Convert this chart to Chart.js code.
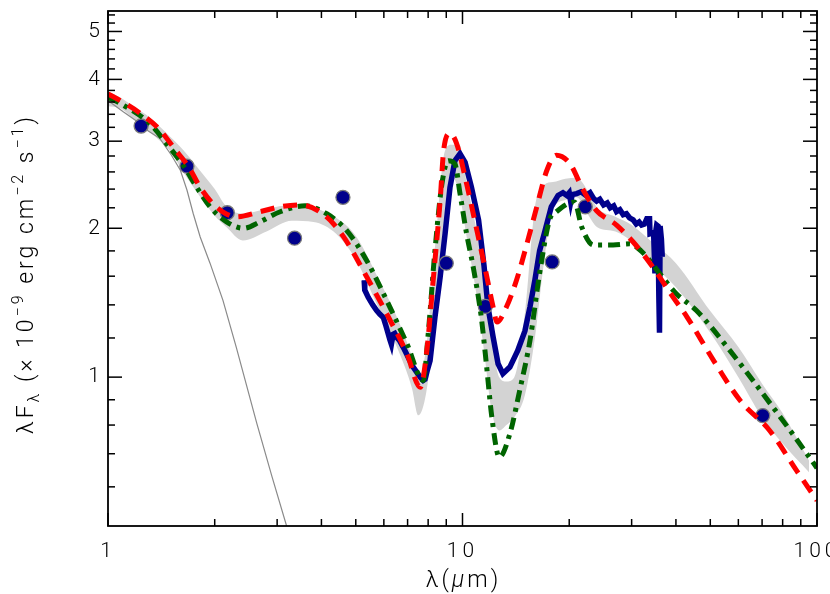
<!DOCTYPE html>
<html><head><meta charset="utf-8">
<script src="https://cdn.jsdelivr.net/npm/chart.js@4.4.0/dist/chart.umd.min.js"></script>
<style>html,body{margin:0;padding:0;background:#fff;}#wrap{width:830px;height:594px;}</style>
</head><body><div id="wrap"><canvas id="c" width="830" height="594"></canvas></div>
<script>
// ---------- data ----------
const bandX = [1.0,1.08,1.2,1.31,1.5,1.63,1.8,2.0,2.16,2.4,2.8,3.3,3.8,4.4,5.0,5.8,6.6,7.2,7.5,7.9,8.4,8.9,9.3,9.8,10.3,10.9,11.5,12.1,12.7,13.3,14.0,15.0,16.0,17.0,18.0,19.5,21.0,22.5,24,27,30,35,40,50,60,70,80,95];
const bandUpper = [3.78,3.68,3.50,3.35,3.06,2.88,2.64,2.40,2.21,2.14,2.19,2.23,2.20,2.10,1.93,1.58,1.30,1.10,0.99,1.15,1.90,2.85,2.95,2.95,2.45,2.02,1.60,1.20,1.0,0.98,1.0,1.35,2.2,2.45,2.48,2.52,2.53,2.39,2.20,2.11,2.03,1.85,1.70,1.36,1.15,0.97,0.845,0.678];
const bandLower = [3.53,3.50,3.29,3.13,2.86,2.60,2.34,2.12,2.01,1.89,1.97,2.07,2.06,1.95,1.73,1.38,1.13,0.95,0.837,0.93,1.35,2.10,2.55,2.35,1.90,1.50,1.13,0.85,0.78,0.80,0.83,0.92,1.2,1.72,2.18,2.28,2.31,2.14,2.01,1.97,1.88,1.67,1.52,1.23,1.0,0.83,0.734,0.642];

const starX = [1.0,1.013,1.104,1.2,1.286,1.40,1.51,1.60,1.67,1.74,1.82,1.94,2.11,2.3,2.63,2.9,3.19,3.3];
const starY = [3.64,3.60,3.44,3.30,3.16,3.04,2.81,2.62,2.39,2.14,1.92,1.70,1.43,1.15,0.805,0.63,0.5,0.46];

const specX = [5.28,5.30,5.42,5.58,5.72,5.85,5.98,6.08,6.18,6.24,6.30,6.37,6.44,6.54,6.64,6.80,6.95,7.10,7.26,7.45,7.60,7.75,7.84,7.95,8.10,8.36,8.65,8.93,9.22,9.52,9.84,10.17,10.6,11.1,11.5,11.8,12.2,12.6,13.0,13.6,14.3,15.0,15.5,16.0,16.5,17.1,17.8,18.6,19.2,19.7,20.0,20.2,20.4,21.0,21.6,22.3,22.9,23.4,23.9,24.4,25.0,25.6,26.1,26.7,27.2,27.8,28.4,29.0,29.6,30.3,30.9,31.5,32.0,32.6,33.1,33.7,33.8,34.6,34.9,35.0,35.3,35.6,35.8,35.95,36.1,36.4,36.6];
const specY = [1.57,1.50,1.45,1.40,1.365,1.34,1.32,1.27,1.22,1.19,1.165,1.22,1.225,1.20,1.186,1.15,1.115,1.08,1.048,1.02,1.0,0.985,0.99,1.03,1.08,1.32,1.594,1.95,2.42,2.74,2.83,2.72,2.42,2.08,1.68,1.386,1.205,1.064,1.016,1.048,1.13,1.24,1.386,1.57,1.80,1.98,2.21,2.33,2.36,2.33,2.36,2.26,2.34,2.35,2.37,2.33,2.36,2.30,2.27,2.29,2.23,2.25,2.20,2.22,2.16,2.18,2.13,2.14,2.10,2.08,2.04,2.06,2.03,2.04,2.09,2.09,1.95,1.96,1.62,1.95,2.03,2.02,1.45,1.23,2.02,1.90,1.75];

const photX = [1.24,1.67,2.17,3.36,4.6,9.0,11.6,17.9,22.2,70.3];
const photY = [3.22,2.67,2.15,1.91,2.31,1.70,1.39,1.71,2.21,0.836];

const modelAX = [1.0,1.1,1.23,1.39,1.55,1.69,1.82,2.02,2.3,2.68,3.06,3.5,4.1,4.6,5.37,6.18,6.97,7.6,7.93,8.25,8.65,8.85,9.22,9.62,10.27,10.93,11.56,12.2,12.5,13.3,14.2,15.1,16.2,17.3,18.4,20.1,21.9,23.9,27.2,30.3,33.8,39.3,43.0,51.1,60.7,73.5,87.6,100];
const modelAY = [3.74,3.60,3.42,3.18,2.88,2.66,2.42,2.21,2.11,2.16,2.21,2.23,2.12,1.93,1.594,1.323,1.115,0.954,1.13,1.546,2.28,2.88,3.11,2.97,2.46,2.01,1.67,1.386,1.292,1.386,1.57,1.83,2.21,2.62,2.81,2.70,2.39,2.17,2.03,1.876,1.70,1.45,1.323,1.08,0.897,0.78,0.647,0.563];

const modelBX = [1.0,1.08,1.31,1.46,1.63,1.78,1.94,2.16,2.41,2.68,3.06,3.6,4.14,4.71,5.37,6.11,6.97,7.75,8.0,8.36,8.75,9.12,9.52,9.84,10.27,10.72,11.3,11.7,12.1,12.7,13.6,14.5,15.5,16.5,17.6,18.4,20.7,21.7,23.4,26.6,29.6,32.4,36.0,40.1,45.7,56.9,70.4,84,100];
const modelBY = [3.68,3.58,3.26,2.97,2.68,2.42,2.21,2.06,2.00,2.06,2.16,2.22,2.14,1.98,1.72,1.43,1.168,0.985,1.22,1.80,2.46,2.74,2.70,2.35,1.95,1.67,1.32,1.048,0.83,0.689,0.768,0.94,1.186,1.62,2.08,2.16,2.26,2.01,1.85,1.85,1.86,1.78,1.62,1.475,1.364,1.13,0.925,0.78,0.655];

const xLabelTicks = [1,10,100];
const xMinorTicks = [2,3,4,5,6,7,8,9,20,30,40,50,60,70,80,90];
const yLabelTicks = [1,2,3,4,5];
const yMinorTicks = [0.6,0.7,0.8,0.9,1.2,1.4,1.6,1.8,2.2,2.4,2.6,2.8,3.2,3.4,3.6,3.8,4.2,4.4,4.6,4.8,5.2,5.4];

const yTitleRuns = [['λF',0],['λ',1],[' (× 10',0],['−9',2],[' erg cm',0],['−2',2],[' s',0],['−1',2],[')',0]];
const xTitleRuns = [['λ(',0],['μ',3],['m)',0]];

// ---------- build ----------
const pts = (xs, ys) => xs.map((x,i)=>({x:x, y:ys[i]}));
const FONT = 'Roboto';
const WEIGHT = 300;

const spacing = {
  id:'spacing',
  beforeDraw(chart){ chart.ctx.letterSpacing = '4px'; }
};

function drawRuns(ctx, runs, cx, baseY, bigPx, smallPx, spacingPx){
  const fontFor = t => (t===3?'italic ':'') + WEIGHT + ' ' + ((t===1||t===2)?smallPx:bigPx) + 'px "' + FONT + '"';
  ctx.letterSpacing = spacingPx + 'px';
  let tw = 0;
  runs.forEach(r=>{ctx.font = fontFor(r[1]); tw += ctx.measureText(r[0]).width;});
  let tx = cx - tw/2;
  runs.forEach(r=>{
    ctx.font = fontFor(r[1]);
    const dy = r[1]===1 ? 6 : (r[1]===2 ? -10 : 0);
    ctx.fillText(r[0], tx, baseY + dy);
    tx += ctx.measureText(r[0]).width;
  });
}

const frame = {
  id:'frame',
  afterDraw(chart){
    const {ctx, chartArea:a, scales:{x, y}} = chart;
    ctx.save();
    ctx.strokeStyle = '#000';
    ctx.lineWidth = 1.5;
    const ln = (x1,y1,x2,y2)=>{ctx.beginPath();ctx.moveTo(x1,y1);ctx.lineTo(x2,y2);ctx.stroke();};
    xLabelTicks.forEach(v=>{const p=x.getPixelForValue(v); ln(p,a.bottom,p,a.bottom-13); ln(p,a.top,p,a.top+13);});
    xMinorTicks.forEach(v=>{const p=x.getPixelForValue(v); ln(p,a.bottom,p,a.bottom-7); ln(p,a.top,p,a.top+7);});
    yLabelTicks.forEach(v=>{const p=y.getPixelForValue(v); ln(a.left,p,a.left+14,p); ln(a.right,p,a.right-14,p);});
    yMinorTicks.forEach(v=>{const p=y.getPixelForValue(v); ln(a.left,p,a.left+7,p); ln(a.right,p,a.right-7,p);});
    ctx.lineWidth = 1.8;
    ctx.strokeRect(a.left, a.top, a.right-a.left, a.bottom-a.top);
    ctx.fillStyle = '#000';
    ctx.textBaseline = 'alphabetic';
    drawRuns(ctx, xTitleRuns, (a.left+a.right)/2 + 1, 587, 23, 16, 3);
    ctx.translate(33, 274);
    ctx.rotate(-Math.PI/2);
    drawRuns(ctx, yTitleRuns, 0, 0, 23, 16, 3);
    ctx.restore();
  }
};

new Chart(document.getElementById('c'), {
  type:'scatter',
  data:{ datasets:[
    {label:'band upper', data:pts(bandX,bandUpper), showLine:true, borderWidth:0, borderColor:'rgba(0,0,0,0)', pointRadius:0, cubicInterpolationMode:'monotone', fill:false, order:10},
    {label:'band lower', data:pts(bandX,bandLower), showLine:true, borderWidth:0, borderColor:'rgba(0,0,0,0)', pointRadius:0, cubicInterpolationMode:'monotone', fill:{target:'-1'}, backgroundColor:'#d3d3d3', order:9},
    {label:'photosphere', data:pts(starX,starY), showLine:true, borderColor:'#8a8a8a', borderWidth:1.2, pointRadius:0, tension:0, order:8},
    {label:'IRS', data:pts(specX,specY), showLine:true, borderColor:'#00008c', borderWidth:5.5, pointRadius:0, tension:0, order:7},
    {label:'photometry', data:pts(photX,photY), showLine:false, pointRadius:7, pointBackgroundColor:'#00008c', pointBorderColor:'#7a7a7a', pointBorderWidth:1.3, order:6},
    {label:'model B', data:pts(modelBX,modelBY), showLine:true, borderColor:'#006400', borderWidth:5, borderDash:[12,6,4,6], pointRadius:0, cubicInterpolationMode:'monotone', order:5},
    {label:'model A', data:pts(modelAX,modelAY), showLine:true, borderColor:'#ff0000', borderWidth:5, borderDash:[14,9], pointRadius:0, cubicInterpolationMode:'monotone', order:4}
  ]},
  options:{
    responsive:false, animation:false, devicePixelRatio:1,
    layout:{padding:{top:11,right:13,left:0,bottom:0}},
    plugins:{legend:{display:false}, tooltip:{enabled:false}},
    scales:{
      x:{type:'logarithmic', min:1, max:100,
        grid:{display:false, drawTicks:false}, border:{display:false},
        afterBuildTicks:s=>{s.ticks = xLabelTicks.map(v=>({value:v}));},
        afterFit:s=>{s.height=68; s.paddingLeft=0; s.paddingRight=0;},
        ticks:{autoSkip:false, maxRotation:0, padding:13, color:'#000', font:{family:FONT,size:21,weight:WEIGHT}, callback:v=>String(v)}},
      y:{type:'logarithmic', min:0.5, max:5.5,
        grid:{display:false, drawTicks:false}, border:{display:false},
        afterBuildTicks:s=>{s.ticks = yLabelTicks.map(v=>({value:v}));},
        afterFit:s=>{s.width=108; s.paddingTop=0; s.paddingBottom=0;},
        ticks:{autoSkip:false, padding:4, color:'#000', font:{family:FONT,size:21,weight:WEIGHT}, callback:v=>String(v)}}
    }
  },
  plugins:[spacing, frame]
});
</script></body></html>
